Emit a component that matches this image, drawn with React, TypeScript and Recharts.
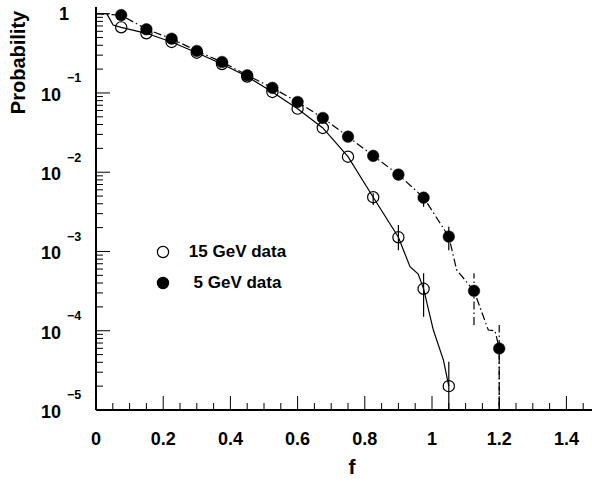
import React from 'react';
import { ComposedChart, Line, XAxis, YAxis, ErrorBar, Legend } from 'recharts';

const FONT = '"Liberation Sans", Arial, Helvetica, sans-serif';

// ---- data ----
const fPoints = [0.075, 0.15, 0.225, 0.3, 0.375, 0.45, 0.525, 0.6, 0.675, 0.75, 0.825, 0.9, 0.975, 1.05, 1.125, 1.2];

// 15 GeV data (open circles)
const prob15 = [0.673, 0.566, 0.44, 0.322, 0.232, 0.161, 0.103, 0.0634, 0.0362, 0.0157, 0.00484, 0.00151, 0.000338, 0.00002];
const err15Hi = [null, null, null, null, null, null, null, null, null, null, 0.00543, 0.00216, 0.000531, 0.0000407];
const err15Lo = [null, null, null, null, null, null, null, null, null, null, 0.00386, 0.00104, 0.00015, 0.00001];

// 5 GeV data (filled circles)
const prob5 = [0.96, 0.636, 0.484, 0.339, 0.246, 0.167, 0.116, 0.077, 0.0484, 0.0281, 0.0161, 0.00933, 0.00478, 0.00154, 0.000319, 0.0000597];
const err5Hi = [null, null, null, null, null, null, null, null, null, null, null, null, 0.00555, 0.00211, 0.000531, 0.000118];
const err5Lo = [null, null, null, null, null, null, null, null, null, null, null, null, 0.00367, 0.00104, 0.000118, 0.00001];

// solid curve through 15 GeV data
const curve15F = [0, 0.032, 0.051, 0.075, 0.15, 0.225, 0.3, 0.375, 0.45, 0.525, 0.6, 0.675, 0.75, 0.825, 0.9, 0.9345, 0.959, 0.975, 1.004, 1.034, 1.05];
const curve15P = [1, 1, 0.72, 0.673, 0.566, 0.44, 0.322, 0.232, 0.161, 0.103, 0.0634, 0.0362, 0.0157, 0.00484, 0.00151, 0.000643, 0.00052, 0.000338, 0.000102, 0.0000427, 0.00002];

// dash-dot curve through 5 GeV data
const curve5F = [0, 0.075, 0.15, 0.225, 0.3, 0.375, 0.45, 0.525, 0.6, 0.675, 0.75, 0.825, 0.9, 0.975, 1.05, 1.0735, 1.125, 1.1676, 1.1875, 1.2, 1.2];
const curve5P = [1, 0.96, 0.636, 0.484, 0.339, 0.246, 0.167, 0.116, 0.077, 0.0484, 0.0281, 0.0161, 0.00933, 0.00478, 0.00154, 0.000584, 0.000319, 0.000102, 0.0001, 0.0000597, 0.00001];

const legendLabels = ['15 GeV data', '5 GeV data'];

// ---- axes ----
const xMajorTicks = [0, 0.2, 0.4, 0.6, 0.8, 1, 1.2, 1.4];
const xTickLabels = ['0', '0.2', '0.4', '0.6', '0.8', '1', '1.2', '1.4'];
const xMinorTicks = [0.05, 0.1, 0.15, 0.25, 0.3, 0.35, 0.45, 0.5, 0.55, 0.65, 0.7, 0.75, 0.85, 0.9, 0.95, 1.05, 1.1, 1.15, 1.25, 1.3, 1.35, 1.45];
const yMajorTicks = [1, 0.1, 0.01, 0.001, 0.0001, 0.00001];
const yMajorExponents = [0, -1, -2, -3, -4, -5];
const yMinorMantissas = [2, 3, 4, 5, 6, 7, 8, 9];
const yMinorDecades = [-5, -4, -3, -2, -1];

const X_DOMAIN = [0, 1.5];
const Y_DOMAIN = [0.00001, 1.215];

// ---- tables built from arrays ----
const rows15 = prob15.map((p, i) => ({
  f: fPoints[i],
  p,
  err: err15Hi[i] != null ? [p - (err15Lo[i] as number), (err15Hi[i] as number) - p] : undefined,
}));
const rows5 = prob5.map((p, i) => ({
  f: fPoints[i],
  p,
  err: err5Hi[i] != null ? [p - (err5Lo[i] as number), (err5Hi[i] as number) - p] : undefined,
}));
const curve15 = curve15F.map((f, i) => ({ f, p: curve15P[i] }));
const curve5 = curve5F.map((f, i) => ({ f, p: curve5P[i] }));

const yMinorTicks: number[] = [];
yMinorDecades.forEach((e) => yMinorMantissas.forEach((m) => yMinorTicks.push(Number((m * Math.pow(10, e)).toPrecision(6)))));
const yTicks = [...yMajorTicks, ...yMinorTicks].sort((a, b) => a - b);
const xTicks = [...xMajorTicks, ...xMinorTicks].sort((a, b) => a - b);

const YTick = (props: any) => {
  const { x, y, payload } = props;
  const v = payload.value;
  const mi = yMajorTicks.findIndex((t) => Math.abs(Math.log10(t) - Math.log10(v)) < 1e-6);
  const major = mi >= 0;
  const len = major ? 14 : 7;
  let label: any = null;
  if (major) {
    const ex = yMajorExponents[mi];
    if (ex === 0) {
      label = (
        <text x={x - 27} y={y + 6.5} textAnchor="end" fontFamily={FONT} fontWeight="bold" fontSize={18} fill="#000">1</text>
      );
    } else {
      label = (
        <g>
          <text x={x - 35} y={y + 8} textAnchor="end" fontFamily={FONT} fontWeight="bold" fontSize={18} fill="#000">10</text>
          <text x={x - 29} y={y - 10.7} textAnchor="start" fontFamily={FONT} fontWeight="bold" fontSize={12.5} fill="#000">{'\u2212' + String(-ex)}</text>
        </g>
      );
    }
  }
  return (
    <g>
      <line x1={x} x2={x + len} y1={y} y2={y} stroke="#000" strokeWidth={1} />
      {label}
    </g>
  );
};

const XTick = (props: any) => {
  const { x, y, payload } = props;
  const v = payload.value;
  const mi = xMajorTicks.findIndex((t) => Math.abs(t - v) < 1e-6);
  const major = mi >= 0;
  const len = major ? 14 : 7;
  return (
    <g>
      <line x1={x} x2={x} y1={y} y2={y - len} stroke="#000" strokeWidth={1} />
      {major ? (
        <text x={x} y={y + 35} textAnchor="middle" fontFamily={FONT} fontWeight="bold" fontSize={18} fill="#000">{xTickLabels[mi]}</text>
      ) : null}
    </g>
  );
};

const HollowDot = (props: any) => {
  const { cx, cy, index } = props;
  if (cx == null || cy == null) return <g key={`h${index}`} />;
  return <circle key={`h${index}`} cx={cx} cy={cy} r={5.6} fill="none" stroke="#000" strokeWidth={1.2} />;
};
const FilledDot = (props: any) => {
  const { cx, cy, index } = props;
  if (cx == null || cy == null) return <g key={`f${index}`} />;
  return <circle key={`f${index}`} cx={cx} cy={cy} r={5.8} fill="#000" stroke="#000" strokeWidth={0.5} />;
};

const LegendBox = () => (
  <div style={{ fontFamily: FONT, fontWeight: 'bold', fontSize: 17, color: '#000', width: 310 }}>
    {legendLabels.map((lab, i) => (
      <div key={lab} style={{ display: 'flex', alignItems: 'center', height: 31 }}>
        <svg width={14} height={14} style={{ marginLeft: 6, display: 'block' }}>
          <circle cx={7} cy={7} r={5.6} fill={i === 0 ? 'none' : '#000'} stroke="#000" strokeWidth={1.2} />
        </svg>
        <span style={{ width: 135, textAlign: 'center', lineHeight: '31px', whiteSpace: 'nowrap' }}>{lab}</span>
      </div>
    ))}
  </div>
);

const YTitle = () => (
  <text x={24.5} y={62.5} transform="rotate(-90 24.5 62.5)" textAnchor="middle" fontFamily={FONT} fontWeight="bold" fontSize={20} fill="#000">Probability</text>
);
const XTitle = () => (
  <text x={352} y={474} textAnchor="middle" fontFamily={FONT} fontWeight="bold" fontSize={21} fill="#000">f</text>
);

export default function App() {
  return (
    <div style={{ position: 'absolute', left: 0, top: 0, width: 592, height: 491, overflow: 'hidden', background: '#fff' }}>
      <ComposedChart width={600} height={491} margin={{ top: 7, right: 0, bottom: 0, left: 0 }}>
        <XAxis
          dataKey="f"
          type="number"
          domain={X_DOMAIN}
          ticks={xTicks}
          interval={0}
          height={81}
          tickSize={0}
          tickMargin={0}
          tickLine={false}
          tick={<XTick />}
          axisLine={{ stroke: '#000', strokeWidth: 2 }}
          allowDataOverflow
          label={<XTitle />}
        />
        <XAxis
          xAxisId="top"
          orientation="top"
          type="number"
          domain={X_DOMAIN}
          height={0}
          tick={false}
          tickLine={false}
          axisLine={{ stroke: '#000', strokeWidth: 2 }}
        />
        <YAxis
          type="number"
          scale="log"
          domain={Y_DOMAIN}
          allowDataOverflow
          ticks={yTicks}
          interval={0}
          width={96}
          tickSize={0}
          tickMargin={0}
          tickLine={false}
          tick={<YTick />}
          axisLine={{ stroke: '#000', strokeWidth: 2 }}
          label={<YTitle />}
        />
        <Line data={curve15} dataKey="p" stroke="#000" strokeWidth={1.2} dot={false} activeDot={false} isAnimationActive={false} type="linear" />
        <Line data={curve5} dataKey="p" stroke="#000" strokeWidth={1.2} strokeDasharray="8 3 1.5 3" dot={false} activeDot={false} isAnimationActive={false} type="linear" />
        <Line data={rows15} dataKey="p" stroke="none" dot={HollowDot} activeDot={false} isAnimationActive={false} type="linear">
          <ErrorBar dataKey="err" width={0} stroke="#000" strokeWidth={1.2} direction="y" />
        </Line>
        <Line data={rows5} dataKey="p" stroke="none" dot={FilledDot} activeDot={false} isAnimationActive={false} type="linear">
          <ErrorBar dataKey="err" width={0} stroke="#000" strokeWidth={1.2} strokeDasharray="8 3 1.5 3" direction="y" />
        </Line>
        <Legend
          layout="horizontal"
          verticalAlign="middle"
          align="center"
          wrapperStyle={{ top: 236, left: 150, width: 310, height: 62 }}
          content={() => <LegendBox />}
        />
      </ComposedChart>
    </div>
  );
}
